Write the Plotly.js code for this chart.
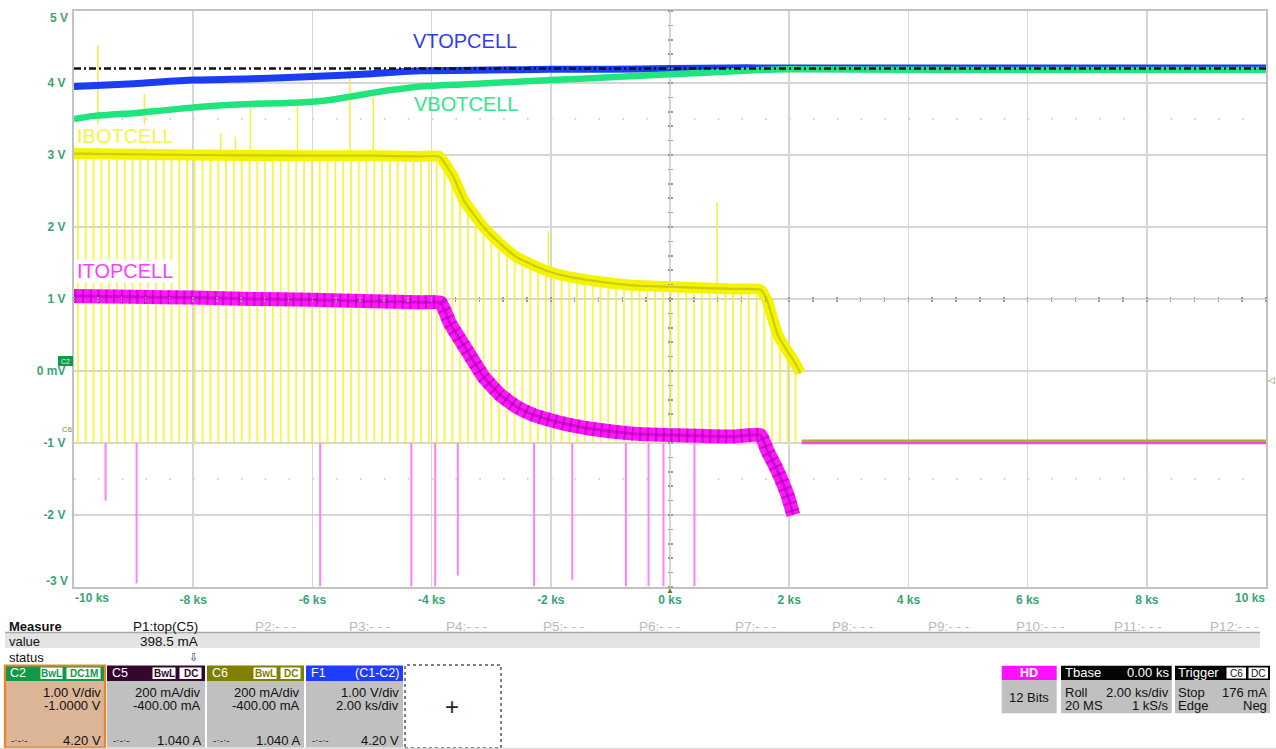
<!DOCTYPE html>
<html>
<head>
<meta charset="utf-8">
<script src="https://cdn.plot.ly/plotly-3.0.1.min.js"></script>
<style>
  html, body { margin: 0; padding: 0; background: #ffffff; }
  #scope { width: 1276px; height: 749px; }
</style>
</head>
<body>
<div id="scope"></div>
<script>
// ---- Acquisition data (time in ks, level in screen volts) ----
const vtopT = [-10, -9, -8, -7, -6, -5, -4.2, -3, -2, -1, 0, 1, 1.5, 4, 7, 10];
const vtopV = [3.95, 3.99, 4.04, 4.06, 4.09, 4.13, 4.17, 4.18, 4.19, 4.19, 4.20, 4.21, 4.21, 4.21, 4.21, 4.21];

const vbotT = [-10, -9.7, -9.4, -9, -8.5, -8, -7.5, -7, -6.5, -6, -5.65, -5.37, -5.08, -4.8, -4.5, -4.2, -3.5, -3, -2, -1, 0, 1, 1.5, 2, 4, 7, 10];
const vbotV = [3.50, 3.54, 3.56, 3.58, 3.62, 3.66, 3.69, 3.71, 3.72, 3.74, 3.77, 3.81, 3.85, 3.89, 3.92, 3.95, 3.98, 4.00, 4.04, 4.08, 4.12, 4.16, 4.18, 4.19, 4.185, 4.18, 4.18];

const ibotT = [-10, -8, -6, -5, -4.2, -3.87, -3.63, -3.46, -3.13, -2.85, -2.57, -2.29, -2.01, -1.73, -1.17, -0.62, 0, 0.5, 1.06, 1.52, 1.63, 1.80, 1.95, 2.07, 2.19];
const ibotV = [3.02, 3.00, 2.99, 2.99, 2.98, 2.98, 2.69, 2.37, 2.00, 1.77, 1.58, 1.47, 1.375, 1.315, 1.24, 1.19, 1.17, 1.155, 1.14, 1.13, 0.98, 0.52, 0.30, 0.15, -0.03];
const ibotRestT = [2.21, 4, 6, 8, 10];
const ibotRestV = [-0.97, -0.97, -0.965, -0.97, -0.97];

const itopT = [-10, -9, -8, -7, -6, -5, -4.2, -3.85, -3.69, -3.41, -3.13, -2.85, -2.57, -2.29, -2.01, -1.73, -1.17, -0.62, 0, 0.5, 1.06, 1.52, 1.63, 1.80, 1.97, 2.07];
const itopV = [1.04, 1.03, 1.02, 1.00, 0.99, 0.97, 0.955, 0.95, 0.66, 0.29, -0.08, -0.33, -0.50, -0.61, -0.68, -0.74, -0.82, -0.87, -0.89, -0.90, -0.91, -0.89, -1.10, -1.38, -1.72, -2.0];
const itopRestT = [2.21, 4, 6, 8, 10];
const itopRestV = [-1.0, -1.0, -1.0, -1.0, -1.0];

// current-channel zero level on screen, where the dropout samples land
const dropoutLevel = -1;
// cursor reference level
const cursorLevel = 4.2;

// IBOTCELL glitches above the trace
const upT    = [-9.60, -8.82, -7.54, -7.29, -7.04, -6.25, -5.37, -4.98, -2.04, 0.79];
const upFrom = [3.0, 3.0, 3.0, 3.0, 3.0, 3.0, 2.99, 2.99, 1.37, 1.15];
const upTo   = [4.52, 3.85, 3.30, 3.25, 3.65, 3.69, 4.20, 3.80, 1.95, 2.35];

// ITOPCELL glitches below the zero level
const dnT  = [-9.47, -8.95, -5.87, -4.34, -3.94, -3.56, -2.28, -1.64, -0.74, -0.36, -0.11, 0.41];
const dnTo = [-1.8, -2.95, -2.99, -2.99, -2.99, -2.84, -2.99, -2.9, -2.99, -2.99, -2.99, -2.99];

// axis labels
const xTickVals = [-8, -6, -4, -2, 0, 2, 4, 6, 8];
const xTickText = ['-8 ks', '-6 ks', '-4 ks', '-2 ks', '0 ks', '2 ks', '4 ks', '6 ks', '8 ks'];
const xEndText  = ['-10 ks', '10 ks'];
const yTickVals = [-2, -1, 0, 1, 2, 3, 4];
const yTickText = ['-2 V', '-1 V', '0 mV', '1 V', '2 V', '3 V', '4 V'];
const yEndText  = ['-3 V', '5 V'];

// trace names
const traceNames = ['VTOPCELL', 'VBOTCELL', 'IBOTCELL', 'ITOPCELL'];

// measurement / channel panel text
const measureHeads = ['P1:top(C5)', 'P2:- - -', 'P3:- - -', 'P4:- - -', 'P5:- - -', 'P6:- - -',
                      'P7:- - -', 'P8:- - -', 'P9:- - -', 'P10:- - -', 'P11:- - -', 'P12:- - -'];
const measureValue = '398.5 mA';
const chanNames   = ['C2', 'C5', 'C6', 'F1'];
const chanScale   = ['1.00 V/div', '200 mA/div', '200 mA/div', '1.00 V/div'];
const chanOffset  = ['-1.0000 V', '-400.00 mA', '-400.00 mA', '2.00 ks/div'];
const chanCursor  = ['4.20 V', '1.040 A', '1.040 A', '4.20 V'];

// ---- geometry helpers ----
const FONT = 'Liberation Sans, Arial, Helvetica, sans-serif';
const L = 74, T = 11, W = 1192, H = 576;
const px = x => (x - L) / W;
const py = y => (T + H - y) / H;
const TICK = '#3aa374';

function seg(ts, a, b) {
  const x = [], y = [];
  ts.forEach((t, i) => {
    x.push(t, t, null);
    y.push(Array.isArray(a) ? a[i] : a, Array.isArray(b) ? b[i] : b, null);
  });
  return { x, y };
}

const up = seg(upT, upFrom, upTo);
const dn = seg(dnT, dropoutLevel, dnTo);

const common = { hoverinfo: 'skip', showlegend: false };

const traces = [
  // zero level (lower edge of the dropout comb)
  Object.assign({ x: [ibotT[0], ibotT[ibotT.length - 1]], y: [dropoutLevel, dropoutLevel],
    mode: 'lines', line: { width: 0, color: 'rgba(0,0,0,0)' } }, common),
  // dropout comb between IBOTCELL and zero
  Object.assign({ x: ibotT, y: ibotV, mode: 'lines', line: { width: 0, color: 'rgba(0,0,0,0)' },
    fill: 'tonexty', fillcolor: '#f2f000',
    fillpattern: { shape: '|', size: 7.8, solidity: 0.17, fgcolor: '#f2f000',
                   bgcolor: 'rgba(0,0,0,0)', fillmode: 'replace' } }, common),
  // glitches
  Object.assign({ x: dn.x, y: dn.y, mode: 'lines', line: { width: 2, color: '#ff80ff' } }, common),
  Object.assign({ x: up.x, y: up.y, mode: 'lines', line: { width: 1.5, color: '#f0f040' } }, common),
  // cell voltages
  Object.assign({ x: vtopT, y: vtopV, mode: 'lines', line: { width: 7, color: '#1a3cf2', shape: 'spline', smoothing: 0.6 } }, common),
  Object.assign({ x: vbotT, y: vbotV, mode: 'lines', line: { width: 6.5, color: '#20e47c', shape: 'spline', smoothing: 0.6 } }, common),
  Object.assign({ x: [-10, 10], y: [cursorLevel, cursorLevel], mode: 'lines',
    line: { width: 2.5, color: '#111111', dash: '7px,3px,2px,3px' } }, common),
  // tails after the stop
  Object.assign({ x: itopRestT, y: itopRestV, mode: 'lines', line: { width: 2.5, color: '#e050e0' } }, common),
  Object.assign({ x: ibotRestT, y: ibotRestV, mode: 'lines', line: { width: 2.5, color: '#b0b020' } }, common),
  // IBOTCELL band
  Object.assign({ x: ibotT, y: ibotV, mode: 'lines', line: { width: 11, color: '#f4f400', shape: 'spline', smoothing: 0.4 } }, common),
  Object.assign({ x: ibotT, y: ibotV, mode: 'lines', line: { width: 2.2, color: '#cccc10', shape: 'spline', smoothing: 0.4 } }, common),
  // ITOPCELL band with striped texture
  Object.assign({ x: itopT, y: itopV, mode: 'lines', line: { width: 14, color: '#ff18ff', shape: 'spline', smoothing: 0.4 } }, common),
  Object.assign({ x: itopT, y: itopV, mode: 'lines',
    line: { width: 14, color: 'rgba(160,0,160,0.5)', dash: '2.2px,5.6px', shape: 'spline', smoothing: 0.4 } }, common),
  Object.assign({ x: itopT, y: itopV, mode: 'lines', line: { width: 3, color: 'rgba(160,0,160,0.45)', shape: 'spline', smoothing: 0.4 } }, common),
  // carriers for the centre-line tick axes
  Object.assign({ x: [0], y: [null], xaxis: 'x2', yaxis: 'y' }, common),
  Object.assign({ x: [0], y: [null], xaxis: 'x3', yaxis: 'y' }, common),
  Object.assign({ x: [null], y: [0], xaxis: 'x', yaxis: 'y2' }, common),
  Object.assign({ x: [null], y: [0], xaxis: 'x', yaxis: 'y3' }, common)
];

// ---- annotations ----
const ann = [];
function txt(x, y, text, o) {
  o = o || {};
  ann.push({
    xref: 'paper', yref: 'paper', x: px(x), y: py(y), text: text, showarrow: false,
    xanchor: o.anchor || 'left', yanchor: 'middle', borderpad: 0,
    bgcolor: o.bg || 'rgba(0,0,0,0)',
    font: { family: FONT, size: o.size || 13, color: o.color || '#111111', weight: o.weight || 'normal' }
  });
}

// axis end labels
txt(74, 598, xEndText[0], { color: TICK, size: 12, weight: 'bold' });
txt(1266, 598, xEndText[1], { anchor: 'right', color: TICK, size: 12, weight: 'bold' });
txt(69, 581, yEndText[0], { anchor: 'right', color: TICK, size: 12, weight: 'bold' });
txt(69, 18, yEndText[1], { anchor: 'right', color: TICK, size: 12, weight: 'bold' });

// trace labels
txt(464.5, 41.5, traceNames[0], { anchor: 'center', size: 20, color: '#2f3cf0' });
txt(465.5, 104.5, traceNames[1], { anchor: 'center', size: 20, color: '#2ee88c' });
txt(125, 136, traceNames[2], { anchor: 'center', size: 20, color: '#f6f63a', bg: '#ffffff' });
txt(125, 271, traceNames[3], { anchor: 'center', size: 20, color: '#ff3cff', bg: '#ffffff' });

// ---- shapes ----
const shp = [];
function rect(x0, y0, x1, y1, fill, lineColor, lw, dash) {
  shp.push({ type: 'rect', xref: 'paper', yref: 'paper', x0: px(x0), x1: px(x1), y0: py(y1), y1: py(y0),
    fillcolor: fill, line: { color: lineColor || 'rgba(0,0,0,0)', width: lw || 0, dash: dash || 'solid' },
    layer: 'above' });
}
function hline(x0, x1, y, color, lw) {
  shp.push({ type: 'line', xref: 'paper', yref: 'paper', x0: px(x0), x1: px(x1), y0: py(y), y1: py(y),
    line: { color: color, width: lw }, layer: 'above' });
}

// half-division dotted rows of the graticule
[3.5, -1.5].forEach(v => shp.push({ type: 'line', xref: 'x', yref: 'y', x0: -10, x1: 10, y0: v, y1: v,
  line: { color: '#c4c4c4', width: 1.6, dash: '1.6px,22.24px' }, layer: 'below' }));

// channel markers on the left edge
rect(58, 356, 73, 366, '#129a4c');
txt(65.5, 361, 'C2', { anchor: 'center', size: 7, color: '#d8f5e0' });
txt(67, 429.5, 'C6', { anchor: 'center', size: 8, color: '#8a8a20' });
// trigger markers
txt(1271, 380, '◁', { anchor: 'center', size: 9, color: '#8a8a20' });
txt(670, 590, '▲', { anchor: 'center', size: 8, color: '#7a6a10' });

// measurement table
txt(8, 626.7, 'Measure', { size: 13, weight: 'bold' });
const headRight = [199, 297, 391, 488, 585, 681, 777, 874, 970, 1066, 1163, 1260];
measureHeads.forEach((s, i) => txt(headRight[i], 626.7, s, { anchor: 'right', size: 13.5,
  color: i === 0 ? '#111111' : '#b9b9b9' }));
rect(5, 632, 1260, 648, '#e4e4e4');
hline(5, 1260, 632.5, '#a8a8a8', 1.5);
txt(8, 641, 'value', { size: 13 });
txt(199, 641, measureValue, { anchor: 'right', size: 13.5 });
txt(8, 657.5, 'status', { size: 13 });
txt(193, 657, '⇩', { anchor: 'center', size: 11, color: '#333333' });

// channel descriptor boxes
const boxX = [[5, 105], [107, 205], [207, 304], [306, 403]];
const headCol = ['#0f9a4a', '#34082e', '#7f7f00', '#1f3cff'];
const bodyCol = ['#dcb496', '#c0c0c0', '#c0c0c0', '#c0c0c0'];
const badges = [
  [['BwL', 40, 63], ['DC1M', 66, 101]],
  [['BwL', 152, 176], ['DC', 179, 202]],
  [['BwL', 253, 277], ['DC', 280, 301]],
  []
];
chanNames.forEach((name, i) => {
  const [a, b] = boxX[i];
  rect(a, 681, b, 747.5, bodyCol[i]);
  rect(a, 665.5, b, 681, headCol[i]);
  txt(a + 4, 673.3, name, { size: 12.5, color: '#ffffff' });
  badges[i].forEach(bd => {
    rect(bd[1], 667, bd[2], 679.5, '#ffffff', headCol[i], 1);
    txt((bd[1] + bd[2]) / 2, 673.3, bd[0], { anchor: 'center', size: 10, color: headCol[i], weight: 'bold' });
  });
  txt(b - 3, 692.3, chanScale[i], { anchor: 'right' });
  txt(b - 3, 705, chanOffset[i], { anchor: 'right' });
  txt(b - 3, 740, chanCursor[i], { anchor: 'right' });
  txt(a + 5, 740, '-·-·-', { size: 10, color: '#333333' });
});
// highlight on the active channel
rect(5, 665.5, 105, 747.5, 'rgba(0,0,0,0)', '#f08222', 2.2);
txt(400, 673.3, '(C1-C2)', { anchor: 'right', size: 12.5, color: '#ffffff' });
// add-channel box
rect(405, 665, 501, 748, '#ffffff', '#555555', 1.5, 'dot');
txt(452, 706, '+', { anchor: 'center', size: 24, color: '#222222' });

// acquisition status boxes
rect(1001.7, 665.7, 1056.7, 680, '#ff10ff');
rect(1001.7, 680, 1056.7, 713.3, '#c0c0c0');
txt(1029, 672.8, 'HD', { anchor: 'center', size: 12.5, color: '#ffffff', weight: 'bold' });
txt(1029, 697, '12 Bits', { anchor: 'center', size: 13 });

rect(1061, 665.7, 1171.7, 680, '#050505');
rect(1061, 680, 1171.7, 713.3, '#c0c0c0');
txt(1064, 672.8, 'Tbase', { size: 13, color: '#ffffff' });
txt(1170, 672.8, '0.00 ks', { anchor: 'right', size: 13, color: '#ffffff' });
txt(1064, 692.5, 'Roll', { size: 13 });
txt(1170, 692.5, '2.00 ks/div', { anchor: 'right', size: 13 });
txt(1064, 705, '20 MS', { size: 13 });
txt(1170, 705, '1 kS/s', { anchor: 'right', size: 13 });

rect(1175, 665.7, 1270, 680, '#050505');
rect(1175, 680, 1270, 713.3, '#c0c0c0');
txt(1177, 672.8, 'Trigger', { size: 13, color: '#ffffff' });
rect(1226, 667, 1246.5, 679, '#ffffff', '#050505', 1);
txt(1236.2, 673, 'C6', { anchor: 'center', size: 10, color: '#111111' });
rect(1248, 667, 1268.5, 679, '#ffffff', '#050505', 1);
txt(1258.2, 673, 'DC', { anchor: 'center', size: 10, color: '#111111' });
txt(1177, 692.5, 'Stop', { size: 13 });
txt(1268, 692.5, '176 mA', { anchor: 'right', size: 13 });
txt(1177, 705, 'Edge', { size: 13 });
txt(1268, 705, 'Neg', { anchor: 'right', size: 13 });

hline(0, 1276, 748.3, '#d8d8d8', 1);

// ---- layout ----
const centreTicks = { showgrid: false, zeroline: false, showline: false, showticklabels: false,
  ticklen: 2, tickwidth: 1.5, tickcolor: '#9a9a9a', ticks: 'outside', fixedrange: true };

const layout = {
  width: 1276, height: 749,
  margin: { l: L, r: 10, t: T, b: 749 - T - H, pad: 0 },
  paper_bgcolor: '#ffffff', plot_bgcolor: '#ffffff',
  showlegend: false,
  font: { family: FONT },
  xaxis: {
    range: [-10, 10], tickmode: 'array', tickvals: xTickVals, ticktext: xTickText,
    showgrid: true, gridcolor: '#d6d6d6', gridwidth: 1.5, zeroline: false,
    showline: true, mirror: true, linecolor: '#c2c2c2', linewidth: 2.2, ticks: '',
    tickfont: { size: 12, color: TICK, weight: 'bold' }, fixedrange: true
  },
  yaxis: {
    range: [-3, 5], tickmode: 'array', tickvals: yTickVals, ticktext: yTickText,
    showgrid: true, gridcolor: '#d6d6d6', gridwidth: 1.5, zeroline: false,
    showline: true, mirror: true, linecolor: '#c2c2c2', linewidth: 2.2, ticks: '',
    ticklabelstandoff: 4,
    tickfont: { size: 12, color: TICK, weight: 'bold' }, fixedrange: true
  },
  xaxis2: Object.assign({ overlaying: 'x', anchor: 'free', position: 0.5, side: 'bottom',
    range: [-10, 10], tickmode: 'linear', tick0: -10, dtick: 0.4 }, centreTicks),
  xaxis3: Object.assign({ overlaying: 'x', anchor: 'free', position: 0.5, side: 'top',
    range: [-10, 10], tickmode: 'linear', tick0: -10, dtick: 0.4 }, centreTicks),
  yaxis2: Object.assign({ overlaying: 'y', anchor: 'free', position: 0.5, side: 'left',
    range: [-3, 5], tickmode: 'linear', tick0: 0, dtick: 0.2 }, centreTicks),
  yaxis3: Object.assign({ overlaying: 'y', anchor: 'free', position: 0.5, side: 'right',
    range: [-3, 5], tickmode: 'linear', tick0: 0, dtick: 0.2 }, centreTicks),
  shapes: shp,
  annotations: ann
};

Plotly.newPlot('scope', traces, layout, { displayModeBar: false, staticPlot: true });
</script>
</body>
</html>
